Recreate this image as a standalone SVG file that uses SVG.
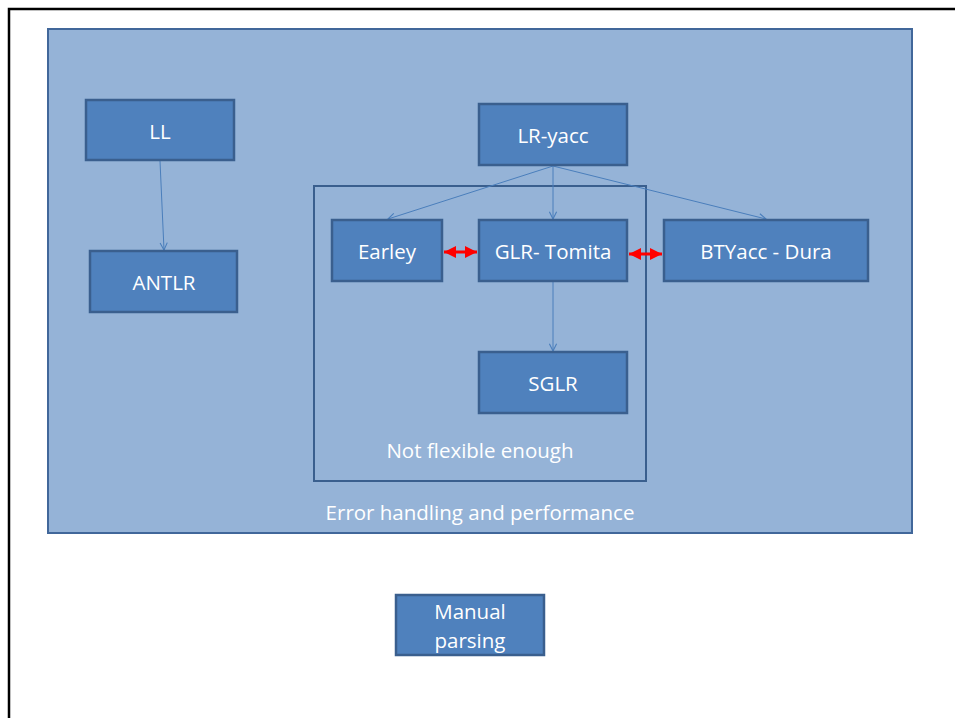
<svg xmlns="http://www.w3.org/2000/svg" width="955" height="718" viewBox="0 0 955 718">
<defs>
<style>
.node rect{fill:#4F81BD;stroke:#3A5F8E;stroke-width:2.5}
.lbl{fill:#FFFFFF;font-family:"Open Sans","Liberation Sans",sans-serif;font-size:20.5px;text-anchor:middle;dominant-baseline:central}
.conn{stroke:#4A7EBB;stroke-width:1;fill:none;marker-end:url(#open)}
.red{stroke:#FF0000;stroke-width:3;fill:none;marker-start:url(#redS);marker-end:url(#redE)}
</style>
<marker id="open" viewBox="0 0 10 10" refX="9" refY="5" markerWidth="9" markerHeight="9" markerUnits="userSpaceOnUse" orient="auto">
<path d="M1,1 L9,5 L1,9" fill="none" stroke="#4A7EBB" stroke-width="1.2"/>
</marker>
<marker id="redE" viewBox="0 0 10 10" refX="10" refY="5" markerWidth="12" markerHeight="12" markerUnits="userSpaceOnUse" orient="auto">
<path d="M0,0 L10,5 L0,10 Z" fill="#FF0000"/>
</marker>
<marker id="redS" viewBox="0 0 10 10" refX="0" refY="5" markerWidth="12" markerHeight="12" markerUnits="userSpaceOnUse" orient="auto">
<path d="M10,0 L0,5 L10,10 Z" fill="#FF0000"/>
</marker>
</defs>
<rect x="0" y="0" width="955" height="718" fill="#FFFFFF"/>
<path d="M9,718 L9,9 L955,9" fill="none" stroke="#000000" stroke-width="2.5"/>
<g id="outer">
<rect x="48" y="29" width="864" height="504" fill="#95B3D7" stroke="#41679A" stroke-width="2"/>
<text class="lbl" x="480" y="512">Error handling and performance</text>
</g>
<g id="inner">
<rect x="314" y="186" width="332" height="295" fill="none" stroke="#3A5F8E" stroke-width="2"/>
<text class="lbl" x="480" y="450">Not flexible enough</text>
</g>
<g id="connectors">
<line class="conn" x1="160" y1="161" x2="164" y2="250"/>
<line class="conn" x1="553" y1="166" x2="388" y2="219"/>
<line class="conn" x1="553" y1="166" x2="553" y2="219"/>
<line class="conn" x1="553" y1="166" x2="766" y2="219"/>
<line class="conn" x1="553" y1="282" x2="553" y2="351"/>
<line class="red" x1="444" y1="252" x2="477" y2="252"/>
<line class="red" x1="629" y1="254" x2="662" y2="254"/>
</g>
<g id="LL" class="node"><rect x="86" y="100" width="148" height="60"/><text class="lbl" x="160" y="131">LL</text></g>
<g id="ANTLR" class="node"><rect x="90" y="251" width="147" height="61"/><text class="lbl" x="164" y="282">ANTLR</text></g>
<g id="LR-yacc" class="node"><rect x="479" y="104" width="148" height="61"/><text class="lbl" x="553" y="135">LR-yacc</text></g>
<g id="Earley" class="node"><rect x="332" y="220" width="110" height="61"/><text class="lbl" x="387" y="251">Earley</text></g>
<g id="GLR-Tomita" class="node"><rect x="479" y="220" width="148" height="61"/><text class="lbl" x="553" y="251">GLR- Tomita</text></g>
<g id="BTYacc-Dura" class="node"><rect x="664" y="220" width="204" height="61"/><text class="lbl" x="766" y="251">BTYacc - Dura</text></g>
<g id="SGLR" class="node"><rect x="479" y="352" width="148" height="61"/><text class="lbl" x="553" y="383">SGLR</text></g>
<g id="Manual-parsing" class="node"><rect x="396" y="595" width="148" height="60"/><text class="lbl" x="470" y="611">Manual</text><text class="lbl" x="470" y="640">parsing</text></g>
</svg>
